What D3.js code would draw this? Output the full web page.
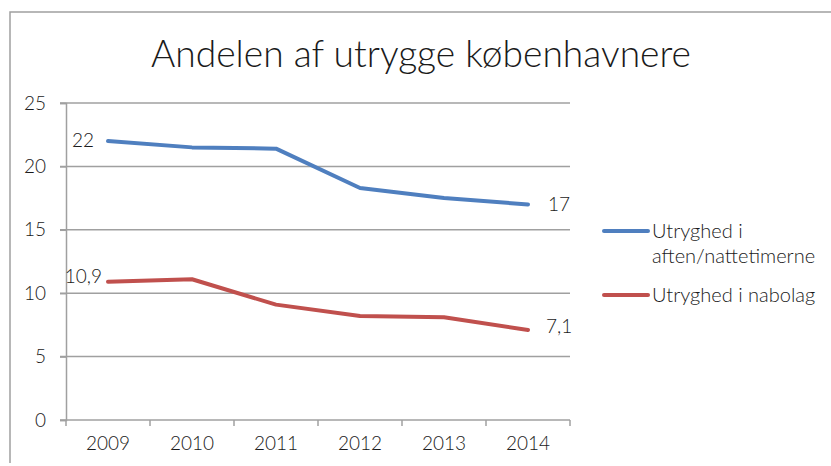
<!DOCTYPE html>
<meta charset="utf-8">
<script src="https://d3js.org/d3.v7.min.js"></script>
<style>
  body { margin: 0; background: #fff; }
  text { font-family: Lato, "Open Sans", sans-serif; fill: #1a1a1a; }
</style>
<div id="chart"></div>
<script>
// data
const years = ["2009", "2010", "2011", "2012", "2013", "2014"];
const aftenValues = [22, 21.5, 21.4, 18.3, 17.5, 17];
const naboValues = [10.9, 11.1, 9.1, 8.2, 8.1, 7.1];
const yTicks = [0, 5, 10, 15, 20, 25];
const seriesNames = [["Utryghed i", "aften/nattetimerne"], ["Utryghed i nabolag"]];
const seriesColors = ["#4f7fbf", "#c0504d"];

const width = 831, height = 466;
const svg = d3.select("#chart").append("svg")
  .attr("width", width).attr("height", height);

// outer frame (only top and left visible)
svg.append("path")
  .attr("d", "M10,463 V12 H831")
  .attr("fill", "none").attr("stroke", "#a0a0a0").attr("stroke-width", 1.5);

svg.append("text")
  .attr("x", 421).attr("y", 67)
  .attr("text-anchor", "middle")
  .style("font-size", "37px")
  .style("font-weight", 300)
  .attr("fill", "#000")
  .attr("textLength", 540)
  .attr("lengthAdjust", "spacingAndGlyphs")
  .text("Andelen af utrygge københavnere");

const x = d3.scaleBand().domain(years).range([66, 570]);
const y = d3.scaleLinear().domain([0, 25]).range([420, 103]);

// gridlines
svg.append("g").selectAll("line")
  .data(yTicks.filter(d => d > 0))
  .join("line")
  .attr("x1", 60).attr("x2", 570)
  .attr("y1", d => y(d)).attr("y2", d => y(d))
  .attr("stroke", "#a0a0a0").attr("stroke-width", 1.5);

// y axis
const yAxis = svg.append("g")
  .attr("transform", "translate(66,0)")
  .call(d3.axisLeft(y).tickValues(yTicks).tickSize(6).tickPadding(14));
yAxis.select(".domain").attr("stroke", "#a0a0a0").attr("stroke-width", 1.5);
yAxis.selectAll(".tick line").attr("stroke", "#a0a0a0").attr("stroke-width", 1.5);
yAxis.selectAll("text").style("font-size", "19px").style("font-weight", 300)
  .attr("fill", "#1a1a1a").attr("font-family", null);

// x axis
const xTickPos = years.map(d => x(d)).concat([x.range()[1]]);
const xg = svg.append("g");
xg.append("line")
  .attr("x1", 60).attr("x2", 570).attr("y1", y(0)).attr("y2", y(0))
  .attr("stroke", "#a0a0a0").attr("stroke-width", 1.5);
xg.selectAll(".xt").data(xTickPos).join("line").attr("class", "xt")
  .attr("x1", d => d).attr("x2", d => d)
  .attr("y1", y(0)).attr("y2", y(0) + 6)
  .attr("stroke", "#a0a0a0").attr("stroke-width", 1.5);
xg.selectAll("text").data(years).join("text")
  .attr("x", d => x(d) + x.bandwidth() / 2)
  .attr("y", 450)
  .attr("text-anchor", "middle")
  .style("font-size", "19px").style("font-weight", 300)
  .text(d => d);

// lines
const line = d3.line()
  .x((d, i) => x(years[i]) + x.bandwidth() / 2)
  .y(d => y(d));

[aftenValues, naboValues].forEach((vals, k) => {
  svg.append("path")
    .datum(vals)
    .attr("d", line)
    .attr("fill", "none")
    .attr("stroke", seriesColors[k])
    .attr("stroke-width", 4)
    .attr("stroke-linecap", "round")
    .attr("stroke-linejoin", "round");
});

const fmt = v => String(v).replace(".", ",");
const cx = i => x(years[i]) + x.bandwidth() / 2;

// data labels
svg.append("text").attr("x", cx(0) - 14).attr("y", y(aftenValues[0]) + 6)
  .attr("text-anchor", "end").style("font-size", "19px").style("font-weight", 300)
  .text(fmt(aftenValues[0]));
svg.append("text").attr("x", cx(0) - 6).attr("y", y(naboValues[0]) + 1)
  .attr("text-anchor", "end").style("font-size", "19px").style("font-weight", 300)
  .text(fmt(naboValues[0]));
svg.append("text").attr("x", cx(5) + 20).attr("y", y(aftenValues[5]) + 7)
  .attr("text-anchor", "start").style("font-size", "19px").style("font-weight", 300)
  .text(fmt(aftenValues[5]));
svg.append("text").attr("x", cx(5) + 18).attr("y", y(naboValues[5]) + 3)
  .attr("text-anchor", "start").style("font-size", "19px").style("font-weight", 300)
  .text(fmt(naboValues[5]));

// legend
const legendY = [231, 295];
seriesNames.forEach((lines, k) => {
  const g = svg.append("g").attr("transform", `translate(604,${legendY[k]})`);
  g.append("line").attr("x1", 0).attr("x2", 44).attr("y1", 0).attr("y2", 0)
    .attr("stroke", seriesColors[k]).attr("stroke-width", 4).attr("stroke-linecap", "round");
  lines.forEach((t, j) => {
    g.append("text").attr("x", 48).attr("y", 7 + j * 25)
      .style("font-size", "20px").style("font-weight", 300)
      .text(t);
  });
});
</script>
